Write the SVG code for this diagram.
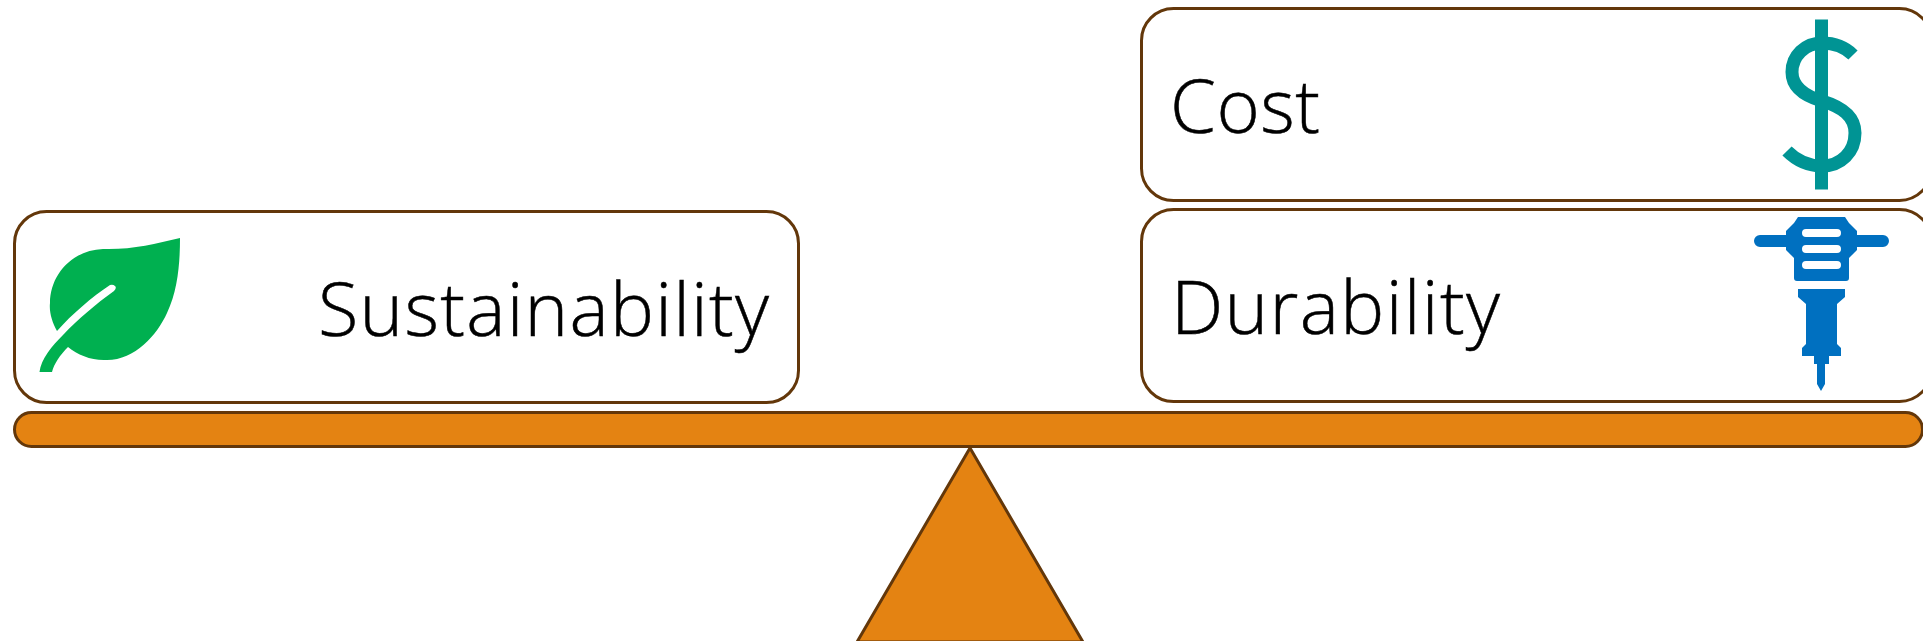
<svg xmlns="http://www.w3.org/2000/svg" width="1923" height="641" viewBox="0 0 1923 641">
<style>
.box{fill:#fff;stroke:#63370a;stroke-width:3}
.wood{fill:#e48312;stroke:#63370a;stroke-width:3}
.lbl{font-family:"Open Sans","Noto Sans",sans-serif;font-weight:300;font-size:74px;fill:#000;stroke:#000;stroke-width:.5}
</style>
<rect width="1923" height="641" fill="#fff"/>
<g id="fulcrum"><polygon class="wood" points="970,448 857,642 1083,642"/></g>
<g id="beam"><rect class="wood" x="14.500" y="412.500" width="1908" height="34" rx="17"/></g>
<g id="sustainability">
<rect class="box" x="14.500" y="211.500" width="784" height="191" rx="32"/>
<path d="M180 238C180 262 178 290 167 313C157 335 135 360 107 360C92 361 78 355 68 347C60 355 54 364 52 372H39.500C41 359 52 346 63 335C78 319 96 304 114 291Q117 288 115 286Q113 284 110 285C92 297 72 314 57 331C52 322 49 312 50 303C50 275 72 250 103 249C130 250 155 244 180 238Z" fill="#00b050"/>
<text class="lbl" x="318" y="336" textLength="451" lengthAdjust="spacing">Sustainability</text>
</g>
<g id="cost">
<rect class="box" x="1141.500" y="8.500" width="790" height="192" rx="32"/>
<text class="lbl" x="1170" y="132.500" textLength="150" lengthAdjust="spacing">Cost</text>
<g fill="none" stroke="#009494" stroke-width="13"><path d="M1853 55C1845 47 1834 43 1822 43C1805 43 1792 56 1792 72C1792 88 1805 96 1822 101C1842 107 1855 116 1855 133C1855 152 1841 166 1822 166C1808 166 1796 160 1787 151"/><path d="M1821.500 19.500V189.500"/></g>
</g>
<g id="durability">
<rect class="box" x="1141.500" y="209.500" width="790" height="192" rx="32"/>
<text class="lbl" x="1171" y="334" textLength="329" lengthAdjust="spacing">Durability</text>
<path fill="#0070c0" fill-rule="evenodd" d="M1798 217H1845L1849 223L1857 231V235H1883A6 6 0 0 1 1883 247H1857V250L1849 258V278Q1849 281 1846 281H1797Q1794 281 1794 278V258L1786 250V247H1760A6 6 0 0 1 1760 235H1786V231L1794 223ZM1806 229A4 4 0 0 0 1806 237H1837A4 4 0 0 0 1837 229ZM1806 245A4 4 0 0 0 1806 253H1837A4 4 0 0 0 1837 245ZM1806 261A4 4 0 0 0 1806 269H1837A4 4 0 0 0 1837 261ZM1798 289H1845V297L1837 304V344L1841 348V356H1829V364H1825V384L1821 391L1817 384V364H1814V356H1802V348L1806 344V304L1798 297Z"/>
</g>
</svg>
